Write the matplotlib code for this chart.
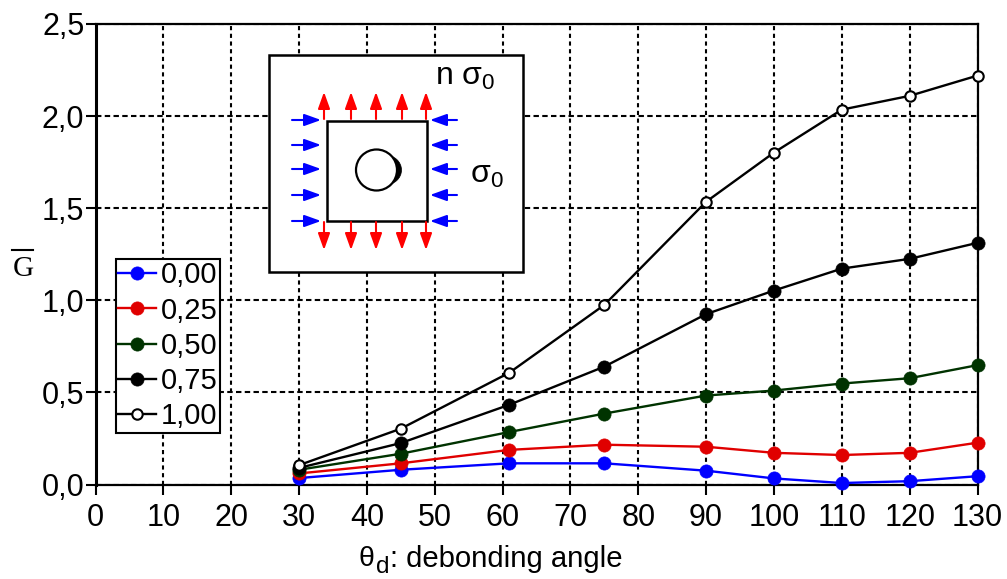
import matplotlib
matplotlib.use("Agg")
import matplotlib.pyplot as plt
from matplotlib.patches import Rectangle, Circle, Ellipse

plt.rcParams['font.family'] = ['Liberation Sans', 'DejaVu Sans']

angles = [30, 45, 61, 75, 90, 100, 110, 120, 130]
g_000 = [0.035, 0.08, 0.115, 0.115, 0.075, 0.033, 0.008, 0.018, 0.045]
g_025 = [0.06, 0.115, 0.188, 0.216, 0.205, 0.172, 0.16, 0.172, 0.227]
g_050 = [0.08, 0.167, 0.285, 0.385, 0.483, 0.51, 0.548, 0.577, 0.648]
g_075 = [0.09, 0.225, 0.433, 0.64, 0.925, 1.053, 1.172, 1.225, 1.312]
g_100 = [0.105, 0.303, 0.607, 0.975, 1.535, 1.802, 2.035, 2.11, 2.22]
labels = ['0,00', '0,25', '0,50', '0,75', '1,00']
colors = ['#0000ff', '#e00000', '#003300', '#000000', '#000000']
xticks = list(range(0, 140, 10))
yticks = [0, 0.5, 1.0, 1.5, 2.0, 2.5]
ylabels = ['0,0', '0,5', '1,0', '1,5', '2,0', '2,5']

W, H = 1007, 579
fig = plt.figure(figsize=(W / 100, H / 100), dpi=100)
L, R, T, B = 95.5, 977.5, 24, 484.5
ax = fig.add_axes([L / W, 1 - B / H, (R - L) / W, (B - T) / H])

series = [g_000, g_025, g_050, g_075, g_100]
for vals, lab, c in zip(series, labels, colors):
    white = lab == '1,00'
    ax.plot(angles, vals, color=c, lw=1.7, marker='o', ms=7.5 if white else 9.5,
            mfc='white' if white else c, mec=c, mew=1.5 if white else 0.5,
            label=lab, clip_on=False, zorder=4)

ax.set_xlim(0, 130)
ax.set_ylim(0, 2.5)
ax.set_xticks(xticks)
ax.set_yticks(yticks)
ax.set_yticklabels(ylabels)
ax.xaxis.grid(True, color='black', lw=1.5, ls=(0, (2, 1.7)))
ax.yaxis.grid(True, color='black', lw=1.5, ls=(0, (2.6, 1.6)))
ax.set_axisbelow(True)
ax.tick_params(axis='both', labelsize=22, width=1.5, length=7, direction='out')
ax.tick_params(axis='x', pad=6)
ax.tick_params(axis='y', pad=1)
for s in ax.spines.values():
    s.set_linewidth(1.6)
ax.spines['left'].set_linewidth(2.2)

# axis titles, subscript sits low like the original
fig.text(358 / W, 1 - 559 / H, '\u03b8', fontsize=20.5, ha='left', va='center')
fig.text(376 / W, 1 - 567 / H, 'd', fontsize=17.5, ha='left', va='center')
fig.text(390 / W, 1 - 559 / H, ': debonding angle', fontsize=21.1, ha='left', va='center')
fig.text(23 / W, 1 - 269 / H, 'G', fontsize=21, family='Liberation Serif', ha='center', va='center')
fig.add_artist(plt.Line2D([11.5 / W, 32.5 / W], [1 - 250 / H, 1 - 250 / H], color='black', lw=1.5))

leg = ax.legend(loc='upper left', bbox_to_anchor=((115.5 - L) / (R - L), (B - 259) / (B - T)),
                fontsize=21, frameon=True, fancybox=False, framealpha=1, edgecolor='black',
                borderpad=0.08, labelspacing=0.25, handlelength=1.3, handletextpad=0.17,
                borderaxespad=0)
leg.get_frame().set_linewidth(1.5)
leg.set_zorder(6)

# inset schematic, drawn in image pixels
ins = fig.add_axes([0, 0, 1, 1], zorder=5)
ins.set_xlim(0, W)
ins.set_ylim(H, 0)
ins.axis('off')
ins.patch.set_alpha(0)
ins.add_patch(Rectangle((269, 55), 254, 217, fc='white', ec='black', lw=1.8))
ins.add_patch(Rectangle((327, 120.5), 100, 100.5, fc='white', ec='black', lw=1.8))
ins.add_patch(Ellipse((385, 170), 33, 30, fc='black', ec='black', lw=0.5))
ins.add_patch(Circle((376.5, 170), 20.5, fc='white', ec='black', lw=1.6))
ins.text(435, 85, r'n $\mathregular{\sigma_0}$', fontsize=23, ha='left', va='baseline')
ins.text(470, 183, r'$\mathregular{\sigma_0}$', fontsize=23, ha='left', va='baseline')

arrow = '-|>,head_width=0.36,head_length=1.0'
ys = [120, 145, 169, 195, 221]
xs = [324, 351, 376, 402, 426]
for y in ys:
    ins.annotate('', xy=(321, y), xytext=(292, y), arrowprops=dict(arrowstyle=arrow, color='#0000ff', lw=1.5, shrinkA=0, shrinkB=0))
    ins.annotate('', xy=(430, y), xytext=(457, y), arrowprops=dict(arrowstyle=arrow, color='#0000ff', lw=1.5, shrinkA=0, shrinkB=0))
for x in xs:
    ins.annotate('', xy=(x, 92), xytext=(x, 119), arrowprops=dict(arrowstyle=arrow, color='#ff0000', lw=1.5, shrinkA=0, shrinkB=0))
    ins.annotate('', xy=(x, 250), xytext=(x, 222), arrowprops=dict(arrowstyle=arrow, color='#ff0000', lw=1.5, shrinkA=0, shrinkB=0))

fig.savefig('out.png', dpi=100)
